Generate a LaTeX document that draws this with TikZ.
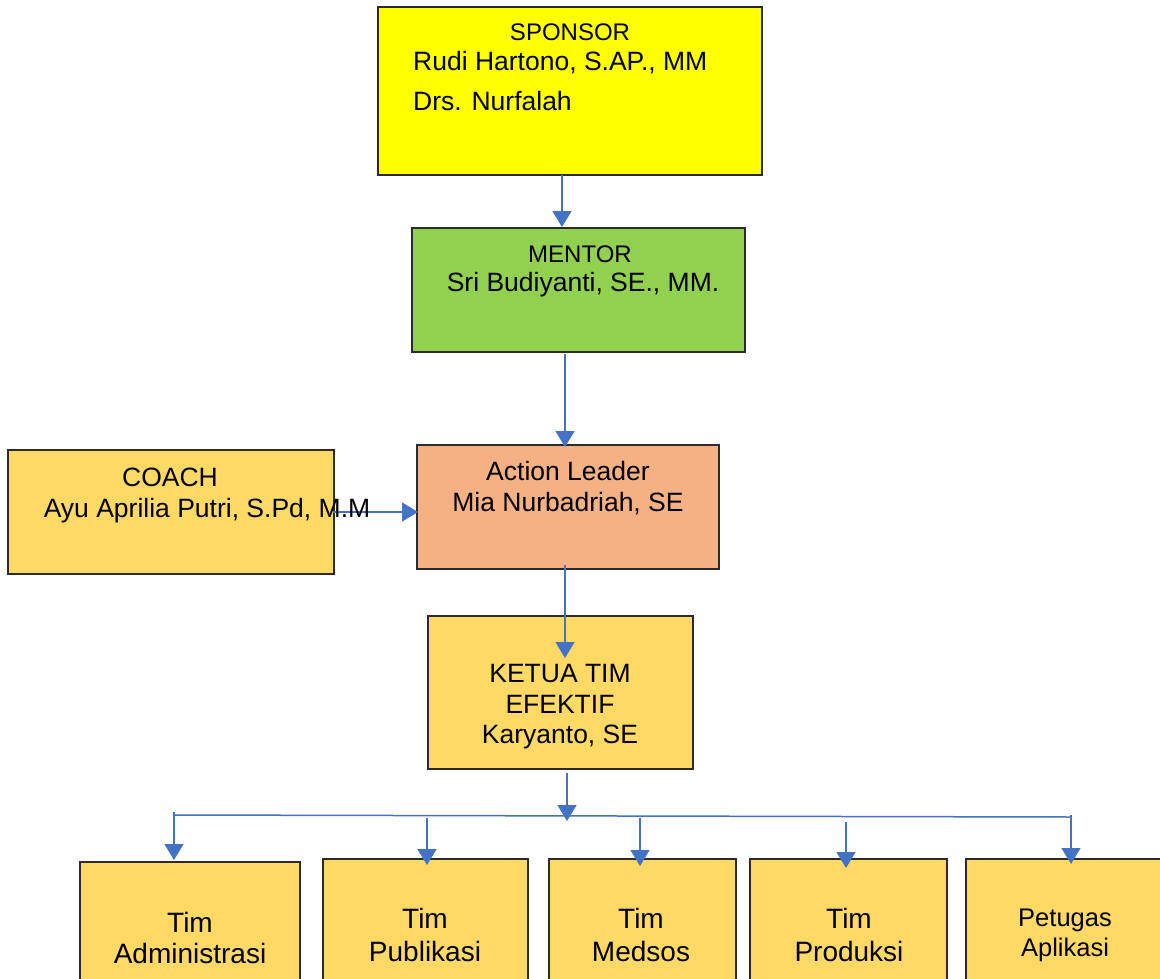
\documentclass[tikz,border=0pt]{standalone}
\usepackage{fontspec}
\setmainfont{Liberation Sans}
\usetikzlibrary{arrows.meta}

\definecolor{sponsorfill}{HTML}{FFFF00}
\definecolor{mentorfill}{HTML}{92D050}
\definecolor{leaderfill}{HTML}{F4B183}
\definecolor{teamfill}{HTML}{FFD966}
\definecolor{linkblue}{HTML}{4472C4}
\definecolor{edge}{HTML}{2B2B2B}

\tikzset{
  box/.style={draw=edge, line width=1.5pt, inner sep=0pt, outer sep=0pt, anchor=north west},
  txt/.style={anchor=base, inner sep=0pt, font=\fontsize{26.5}{30}\selectfont},
  txtl/.style={txt, anchor=base west},
  head/.style={txt, font=\fontsize{24}{28}\selectfont},
  teamtxt/.style={txt, font=\fontsize{28}{32}\selectfont},
  small/.style={txt, font=\fontsize{25.5}{29}\selectfont},
  link/.style={draw=linkblue, line width=1.5pt, -{Triangle[width=19pt,length=16pt]}},
  bus/.style={draw=linkblue, line width=1.5pt}
}

\begin{document}
\begin{tikzpicture}[x=1pt,y=-1pt]
  \useasboundingbox (0,0) rectangle (1160,978);
  \clip (0,0) rectangle (1160,978);

  % boxes
  \node[box, fill=sponsorfill, minimum width=384pt, minimum height=168pt] (sponsor) at (378,7) {};
  \node[box, fill=mentorfill, minimum width=333pt, minimum height=124pt] (mentor) at (412,228) {};
  \node[box, fill=leaderfill, minimum width=302pt, minimum height=124pt] (leader) at (417,445) {};
  \node[box, fill=teamfill, minimum width=326pt, minimum height=124pt] (coach) at (8,450) {};
  \node[box, fill=teamfill, minimum width=265pt, minimum height=153pt] (ketua) at (428,616) {};
  \node[box, fill=teamfill, minimum width=220pt, minimum height=140pt] (admin) at (80,862) {};
  \node[box, fill=teamfill, minimum width=205pt, minimum height=140pt] (publik) at (323,859) {};
  \node[box, fill=teamfill, minimum width=187pt, minimum height=140pt] (medsos) at (549,859) {};
  \node[box, fill=teamfill, minimum width=197pt, minimum height=140pt] (produk) at (750,859) {};
  \node[box, fill=teamfill, minimum width=210pt, minimum height=140pt] (petugas) at (966,859) {};

  % texts
  \node[head] (sponsorA) at (570,40) {SPONSOR};
  \node[txtl] (sponsorB) at (413,70) {Rudi Hartono, S.AP., MM};
  \node[txtl] (sponsorC) at (413,110) {Drs. Nurfalah};

  \node[head] (mentorA) at (580,262) {MENTOR};
  \node[txt] (mentorB) at (583,291) {Sri Budiyanti, SE., MM.};

  \node[txt] (leaderA) at (568,480) {Action Leader};
  \node[txt] (leaderB) at (568,511) {Mia Nurbadriah, SE};

  \node[txt] (ketuaA) at (560,682) {KETUA TIM};
  \node[txt] (ketuaB) at (560,713) {EFEKTIF};
  \node[txt] (ketuaC) at (560,743) {Karyanto, SE};

  \node[teamtxt] (adminA) at (190,932) {Tim};
  \node[teamtxt] (adminB) at (190,963) {Administrasi};
  \node[teamtxt] (publikA) at (425,928) {Tim};
  \node[teamtxt] (publikB) at (425,961) {Publikasi};
  \node[teamtxt] (medsosA) at (641,928) {Tim};
  \node[teamtxt] (medsosB) at (641,961) {Medsos};
  \node[teamtxt] (produkA) at (849,928) {Tim};
  \node[teamtxt] (produkB) at (849,961) {Produksi};
  \node[small] (petugasA) at (1065,926) {Petugas};
  \node[small] (petugasB) at (1065,956) {Aplikasi};

  % connector end points
  \coordinate (s1) at (562,175);
  \coordinate (m0) at (562,227);
  \coordinate (m1) at (565,354);
  \coordinate (l0) at (565,447);
  \coordinate (l1) at (565,565);
  \coordinate (k0) at (565,658);
  \coordinate (c1) at (333,512);
  \coordinate (l2) at (418,512);
  \coordinate (k1) at (567,773);
  \coordinate (b0) at (567,821);
  \coordinate (busL) at (174,815);
  \coordinate (busR) at (1071,817);
  \coordinate (d1a) at (174,812);
  \coordinate (d1b) at (174,860);
  \coordinate (d2a) at (427,818);
  \coordinate (d2b) at (427,865);
  \coordinate (d3a) at (640,818);
  \coordinate (d3b) at (640,866);
  \coordinate (d4a) at (846,822);
  \coordinate (d4b) at (846,868);
  \coordinate (d5a) at (1071,815);
  \coordinate (d5b) at (1071,864);

  % connectors
  \draw[link] (s1) -- (m0);
  \draw[link] (m1) -- (l0);
  \draw[link] (l1) -- (k0);

  % COACH text sits over the coach link
  \node[txt] (coachA) at (170,486) {COACH};
  \draw[link] (c1) -- (l2);
  \node[txt] (coachB) at (207,517) {Ayu Aprilia Putri, S.Pd, M.M};

  \draw[bus] (busL) -- (busR);
  \draw[link] (k1) -- (b0);
  \draw[link] (d1a) -- (d1b);
  \draw[link] (d2a) -- (d2b);
  \draw[link] (d3a) -- (d3b);
  \draw[link] (d4a) -- (d4b);
  \draw[link] (d5a) -- (d5b);
\end{tikzpicture}
\end{document}
